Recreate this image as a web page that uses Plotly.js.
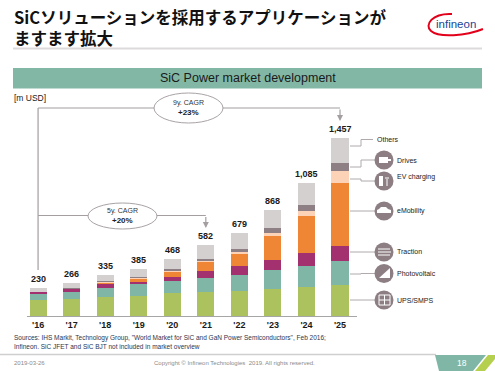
<!DOCTYPE html>
<html><head><meta charset="utf-8">
<script src="https://cdn.plot.ly/plotly-3.0.1.min.js"></script>
<style>html,body{margin:0;padding:0;background:#fff;}#chart{width:495px;height:371px;}</style>
</head><body><div id="chart"></div>
<script>
// ---- data ----
const years = ["'16","'17","'18","'19","'20","'21","'22","'23","'24","'25"];
const totals = [230,266,335,385,468,582,679,868,1085,1457];
const upsSmps =     [130,140,153,166,186,199,205,221,235,254];
const photovoltaic = [46, 58, 74, 96, 98,115,131,155,177,196];
const traction =     [20, 20, 33, 19, 35, 57, 74, 82,101,125];
const eMobility =    [1,   2, 12, 20, 38, 69, 98,196,308,515];
const evCharging =   [1,   3,  6,  8,  8, 13, 16, 27, 41, 98];
const drives =       [2,   4,  8,  8, 16, 16, 25, 36, 47, 60];
const others =       [30, 39, 49, 68, 87,113,130,151,176,209];
const seriesNames = ["UPS/SMPS","Photovoltaic","Traction","eMobility","EV charging","Drives","Others"];
const cagrLabels = [["9y. CAGR","+23%"],["5y. CAGR","+20%"]];

// ---- helpers ----
const W = 495, H = 371;
const px = x => x / W, py = y => 1 - y / H;
const FONT = "Liberation Sans, Arial, sans-serif";
const idx = years.map((_, i) => i);

const colors = ["#abc25e","#80b6a6","#a3316f","#ef8636","#fcd3b6","#8d7f84","#d4d0d0"];
const seriesData = [upsSmps, photovoltaic, traction, eMobility, evCharging, drives, others];

const traces = seriesData.map((d, k) => ({
  type:"bar", x: idx, y: d, name: seriesNames[k],
  marker: {color: colors[k], line:{width:0}}, hoverinfo:"none"
}));

const shapes = [];
const annotations = [];
function A(o){ annotations.push(Object.assign({showarrow:false, xanchor:"center", yanchor:"middle"}, o)); }

// title underline, header band, footer line
shapes.push({type:"line", xref:"paper", yref:"paper", x0:px(13), x1:px(482), y0:py(48.5), y1:py(48.5), line:{color:"#dddada", width:2}});
shapes.push({type:"rect", xref:"paper", yref:"paper", x0:px(13), x1:px(482), y0:py(68), y1:py(88.5), fillcolor:"#82b7a6", line:{width:0}});
shapes.push({type:"line", xref:"paper", yref:"paper", x0:0, x1:px(436), y0:py(354.5), y1:py(354.5), line:{color:"#cfcfcf", width:1.5}});
// page number block
shapes.push({type:"path", xref:"paper", yref:"paper", path:`M${px(435)},${py(355)} L${px(486)},${py(355)} L${px(473)},${py(371)} L${px(439)},${py(371)} Z`, fillcolor:"#7fb6a5", line:{width:0}});
shapes.push({type:"path", xref:"paper", yref:"paper", path:`M${px(488)},${py(355)} L${px(495)},${py(355)} L${px(495)},${py(359)} L${px(485)},${py(371)} L${px(475)},${py(371)} Z`, fillcolor:"#b5cf4e", line:{width:0}});

// logo swoosh
shapes.push({type:"path", xref:"paper", yref:"paper", path:`M${px(452)},${py(14)} C${px(432)},${py(13)} ${px(424)},${py(25)} ${px(431)},${py(31)} C${px(439)},${py(38)} ${px(466)},${py(36)} ${px(483)},${py(29)}`, line:{color:"#e2001a", width:2}});

// CAGR brackets
const gray = "#a49ea0";
shapes.push({type:"line", xref:"x", yref:"paper", x0:0, x1:0, y0:py(270), y1:py(108), line:{color:gray, width:1.2}});
shapes.push({type:"line", xref:"x", yref:"paper", x0:0, x1:9, y0:py(108), y1:py(108), line:{color:gray, width:1.2}});
shapes.push({type:"line", xref:"x", yref:"paper", x0:0, x1:5, y0:py(215.5), y1:py(215.5), line:{color:gray, width:1.2}});
annotations.push({xref:"x", yref:"paper", x:9, y:py(121), ax:0, ay:-13, text:"", showarrow:true, arrowhead:2, arrowsize:1, arrowwidth:1.2, arrowcolor:gray});
annotations.push({xref:"x", yref:"paper", x:5, y:py(228), ax:0, ay:-12.5, text:"", showarrow:true, arrowhead:2, arrowsize:1, arrowwidth:1.2, arrowcolor:gray});
const ellipses = [{x0:154, x1:223, y0:93, y1:123}, {x0:88, x1:157, y0:203, y1:229}];
ellipses.forEach((e, k) => {
  shapes.push({type:"circle", xref:"paper", yref:"paper", x0:px(e.x0), x1:px(e.x1), y0:py(e.y1), y1:py(e.y0), fillcolor:"#ffffff", line:{color:"#a9a3a5", width:1}});
  const cx = (e.x0 + e.x1) / 2, cy = (e.y0 + e.y1) / 2;
  A({xref:"paper", yref:"paper", x:px(cx), y:py(cy - 5), text:cagrLabels[k][0], font:{family:FONT, size:7, color:"#333"}});
  A({xref:"paper", yref:"paper", x:px(cx), y:py(cy + 5), text:"<b>"+cagrLabels[k][1]+"</b>", font:{family:FONT, size:8, color:"#222"}});
});

// total labels
totals.forEach((t, i) => {
  A({xref:"x", yref:"y", x:i, y:t, yanchor:"bottom", yshift:2, text:"<b>"+t.toLocaleString("en-US")+"</b>", font:{family:FONT, size:9, color:"#1a1a1a"}});
});

// legend with icons (layout positions)
const legendPos = [
  {sy:300, cy:300},    // UPS/SMPS
  {sy:274, cy:273.5},  // Photovoltaic
  {sy:252, cy:252},    // Traction
  {sy:211, cy:211},    // eMobility
  {sy:179, cy:181, ly:177}, // EV charging
  {sy:167, cy:160},    // Drives
  {sy:146, cy:139.5, noIcon:true} // Others
];
const iconColor = "#8c7e83";
const lineCol = "#b0aaac";
legendPos.forEach((p, k) => {
  const endX = p.noIcon ? 373 : 375;
  shapes.push({type:"path", xref:"paper", yref:"paper", path:`M${px(350)},${py(p.sy)} L${px(361)},${py(p.sy)} L${px(361)},${py(p.cy)} L${px(endX)},${py(p.cy)}`, line:{color:lineCol, width:1}});
  const ly = p.ly !== undefined ? p.ly : p.cy;
  A({xref:"paper", yref:"paper", x:px(p.noIcon ? 375 : 395), y:py(ly), xanchor:"left", text:seriesNames[k], font:{family:FONT, size:7, color:"#222"}});
  if (!p.noIcon) {
    const c = p.cy;
    shapes.push({type:"circle", xref:"paper", yref:"paper", x0:px(374.5), x1:px(393.5), y0:py(c+9.5), y1:py(c-9.5), fillcolor:iconColor, line:{width:0}});
  }
});
// simple white pictograms
const wl = {color:"#ffffff", width:1};
function P(d){ shapes.push({type:"path", xref:"paper", yref:"paper", path:d, line:wl}); }
function PF(d){ shapes.push({type:"path", xref:"paper", yref:"paper", path:d, fillcolor:"#ffffff", line:{width:0}}); }
function pt(x,y){ return px(x)+","+py(y); }
P(`M${pt(379,295)} L${pt(390,295)} L${pt(390,305)} L${pt(379,305)} Z M${pt(384.5,295)} L${pt(384.5,305)} M${pt(379,300)} L${pt(390,300)}`);
PF(`M${pt(379,278)} L${pt(390,278)} L${pt(390,268)} Z`);
P(`M${pt(378,249)} L${pt(390,249)} M${pt(378,252)} L${pt(391,252)} M${pt(378,255)} L${pt(390,255)}`);
PF(`M${pt(377,213)} L${pt(391,213)} L${pt(391,210)} L${pt(388,209)} L${pt(386,207)} L${pt(381,207)} L${pt(379,209)} L${pt(377,210)} Z`);
PF(`M${pt(379,176)} L${pt(383,176)} L${pt(383,186)} L${pt(379,186)} Z`);
P(`M${pt(387,186)} L${pt(387,179)} M${pt(386,177)} L${pt(386,179)} M${pt(388,177)} L${pt(388,179)}`);
PF(`M${pt(379,157)} L${pt(388,157)} L${pt(388,163)} L${pt(379,163)} Z M${pt(388,159)} L${pt(391,159)} L${pt(391,161)} L${pt(388,161)} Z`);

// texts
A({xref:"paper", yref:"paper", x:px(12), y:py(27.8), xanchor:"left", align:"left", text:"<b>SiCソリューションを採用するアプリケーションが<br>ますます拡大</b>", font:{family:"Noto Sans CJK JP", size:16.5, color:"#111"}});
A({xref:"paper", yref:"paper", x:px(456), y:py(24.5), text:"infineon", font:{family:FONT, size:11.5, color:"#1b4596"}});
A({xref:"paper", yref:"paper", x:px(247.5), y:py(78.5), text:"SiC Power market development", font:{family:FONT, size:12.5, color:"#1a1a1a"}});
A({xref:"paper", yref:"paper", x:px(12), y:py(98), xanchor:"left", text:"[m USD]", font:{family:FONT, size:8.5, color:"#1a1a1a"}});
A({xref:"paper", yref:"paper", x:px(12), y:py(337.5), xanchor:"left", text:"Sources: IHS Markit, Technology Group, \"World Market for SiC and GaN Power Semiconductors\", Feb 2016;", font:{family:FONT, size:6.5, color:"#2a3650"}});
A({xref:"paper", yref:"paper", x:px(12), y:py(346.5), xanchor:"left", text:"Infineon. SiC JFET and SiC BJT not included in market overview", font:{family:FONT, size:6.5, color:"#2a3650"}});
A({xref:"paper", yref:"paper", x:px(12), y:py(362.5), xanchor:"left", text:"2019-03-26", font:{family:FONT, size:6, color:"#8a8a8a"}});
A({xref:"paper", yref:"paper", x:px(234), y:py(362.5), text:"Copyright © Infineon Technologies  2019. All rights reserved.", font:{family:FONT, size:6, color:"#8a8a8a"}});
A({xref:"paper", yref:"paper", x:px(461.5), y:py(362.5), text:"18", font:{family:FONT, size:8.5, color:"#ffffff"}});

const yTopPx = 100, yBotPx = 316, pxPerUnit = 0.1223;
const layout = {
  width: W, height: H,
  margin: {l:0, r:0, t:0, b:0, pad:0},
  paper_bgcolor: "#ffffff", plot_bgcolor: "rgba(0,0,0,0)",
  barmode: "stack", bargap: 0.49,
  showlegend: false,
  xaxis: {domain:[px(27), px(356.8)], range:[-0.33, 9.5], tickvals: idx, ticktext: years.map(s => "<b>"+s+"</b>"),
          showline:true, linecolor:"#a6a6a6", linewidth:1, showgrid:false, zeroline:false, ticks:"", ticklabelstandoff:0,
          tickfont:{family:FONT, size:9, color:"#1a1a1a"}, fixedrange:true},
  yaxis: {domain:[py(yBotPx), py(yTopPx)], range:[0, (yBotPx - yTopPx)/pxPerUnit], visible:false, showgrid:false, zeroline:false, fixedrange:true},
  shapes, annotations,
  font: {family: FONT}
};
Plotly.newPlot("chart", traces, layout, {staticPlot:true, displayModeBar:false});
</script></body></html>
